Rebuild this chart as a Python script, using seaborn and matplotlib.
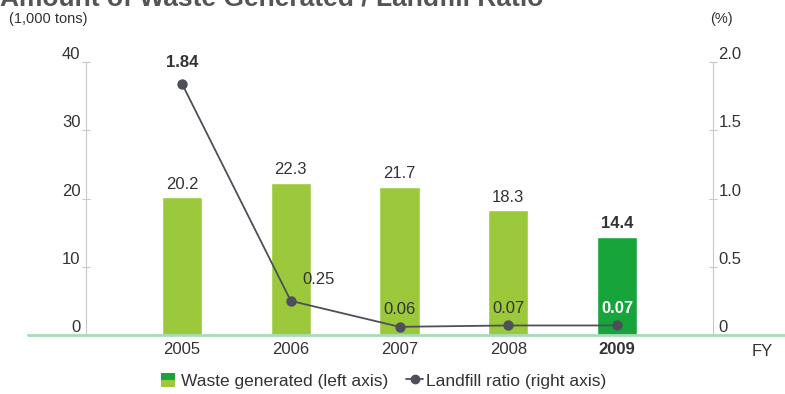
import matplotlib
matplotlib.use("Agg")
import matplotlib.pyplot as plt
import matplotlib.lines as mlines
import matplotlib.patches as mpatches
from matplotlib.legend_handler import HandlerBase
import seaborn as sns
import pandas as pd

years = ["2005", "2006", "2007", "2008", "2009"]
waste = [20.2, 22.3, 21.7, 18.3, 14.4]
landfill = [1.84, 0.25, 0.06, 0.07, 0.07]
landfill_labels = ["1.84", "0.25", "0.06", "0.07", "0.07"]

light_green = "#9cc93c"
dark_green = "#17a43b"
line_col = "#4d4f5a"
axis_col = "#c8c8c8"
text_col = "#333333"
fs = 12

sns.set_style("white")
plt.rcParams['font.family'] = ['Liberation Sans Narrow', 'Liberation Sans', 'DejaVu Sans']

df = pd.DataFrame({"year": years, "waste": waste, "landfill": landfill})
palette = {y: light_green for y in years}
palette["2009"] = dark_green


class TwoToneHandler(HandlerBase):
    # legend square: dark green on top, light green below
    def create_artists(self, legend, orig_handle, xdescent, ydescent,
                       width, height, fontsize, trans):
        side = height * 1.15
        x0 = -xdescent
        y0 = -ydescent - 1
        top = mpatches.Rectangle((x0, y0 + side / 2), side, side / 2,
                                 facecolor=dark_green, lw=0, transform=trans)
        bot = mpatches.Rectangle((x0, y0), side, side / 2,
                                 facecolor=light_green, lw=0, transform=trans)
        return [bot, top]


fig = plt.figure(figsize=(7.85, 3.94), dpi=100)
ax = fig.add_axes([0.1096, 0.1497, 0.7987, 0.6929])

sns.barplot(data=df, x="year", y="waste", hue="year", palette=palette,
            width=0.37, legend=False, ax=ax, saturation=1)
ax.set_xlim(-0.883, 4.883)
ax.set_ylim(0, 40)
ax.set_yticks([0, 10, 20, 30, 40])
ax.set_xlabel("")
ax.set_ylabel("")

ax2 = ax.twinx()
sns.pointplot(data=df, x="year", y="landfill", color=line_col, ax=ax2,
              markers="o", markersize=6.5, linewidth=1.3)
ax2.set_xlim(-0.883, 4.883)
ax2.set_ylim(0, 2.0)
ax2.set_yticks([0, 0.5, 1.0, 1.5, 2.0])
ax2.set_yticklabels(["0", "0.5", "1.0", "1.5", "2.0"])
ax2.set_ylabel("")

for a in (ax, ax2):
    for s in a.spines.values():
        s.set_visible(False)
ax.spines["left"].set_visible(True)
ax.spines["left"].set_color(axis_col)
ax2.spines["right"].set_visible(True)
ax2.spines["right"].set_color(axis_col)

ax.tick_params(axis="y", direction="inout", length=6, color=axis_col,
               labelsize=fs, labelcolor=text_col, pad=1)
ax2.tick_params(axis="y", direction="inout", length=6, color=axis_col,
                labelsize=fs, labelcolor=text_col, pad=1)
for lab in ax2.get_yticklabels() + ax.get_yticklabels():
    lab.set_verticalalignment("bottom")
ax.tick_params(axis="x", length=0, labelsize=fs, labelcolor=text_col, pad=5)
for lab in ax.get_xticklabels():
    if lab.get_text() == "2009":
        lab.set_fontweight("bold")

# green baseline extending across the figure
ax.axhline(0, xmin=-0.093, xmax=1.16, color="#a8dcb8", lw=2, clip_on=False, zorder=5)

# bar value labels
for i, v in enumerate(waste):
    ax.annotate(f"{v}", (i, v), xytext=(0, 4), textcoords="offset points",
                ha="center", va="bottom", fontsize=fs, color=text_col,
                fontweight="bold" if years[i] == "2009" else "normal")

# landfill value labels
offsets = [(0, 10), (20, 10), (0, 7), (0, 7), (0, 7)]
for i, (v, lab) in enumerate(zip(landfill, landfill_labels)):
    last = years[i] == "2009"
    ax2.annotate(lab, (i, v), xytext=offsets[i], textcoords="offset points",
                 ha="center", va="bottom", fontsize=fs,
                 color="white" if last else text_col,
                 fontweight="bold" if last or i == 0 else "normal")

fig.text(0.012, 0.953, "(1,000 tons)", fontsize=10.5, color=text_col, va="center")
fig.text(0.905, 0.953, "(%)", fontsize=10.5, color=text_col, va="center")
fig.text(0.957, 0.108, "FY", fontsize=fs, color=text_col, va="center")
fig.text(0.0, 1.005, "Amount of Waste Generated / Landfill Ratio", fontsize=19,
         fontweight="bold", color="#555555", va="center", ha="left")

bar_handle = mpatches.Patch(color=dark_green)
line_handle = mlines.Line2D([], [], color=line_col, marker="o", markersize=6, lw=1.3)
fig.legend([bar_handle, line_handle],
           ["Waste generated (left axis)", "Landfill ratio (right axis)"],
           handler_map={mpatches.Patch: TwoToneHandler()},
           loc="center", bbox_to_anchor=(0.489, 0.033), ncol=2, frameon=False,
           fontsize=12.5, handlelength=1.0, handletextpad=0.15, columnspacing=1.0,
           labelcolor=text_col)

fig.savefig("out.png", dpi=100)
